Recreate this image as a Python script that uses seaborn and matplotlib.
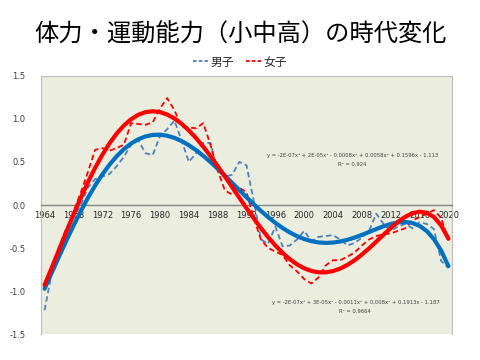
import numpy as np
import pandas as pd
import seaborn as sns
from matplotlib import pyplot as plt
from matplotlib.patches import Rectangle

years = list(range(1964, 2021))

# 男子 (blue dashed)
boys = [-1.22, -0.78, -0.48, -0.27, -0.15, 0.00, 0.20, 0.30, 0.33, 0.36,
        0.45, 0.56, 0.70, 0.75, 0.60, 0.58, 0.80, 0.88, 0.98, 0.75,
        0.50, 0.60, 0.72, 0.72, 0.40, 0.33, 0.35, 0.50, 0.46, 0.05,
        -0.40, -0.45, -0.25, -0.48, -0.47, -0.40, -0.30, -0.42, -0.37, -0.36,
        -0.35, -0.40, -0.47, -0.44, -0.38, -0.30, -0.10, -0.22, -0.30, -0.25,
        -0.22, -0.27, -0.20, -0.22, -0.28, -0.65, -0.73]

# 女子 (red dashed)
girls = [-0.99, -0.75, -0.52, -0.30, -0.08, 0.14, 0.38, 0.64, 0.66, 0.63,
         0.66, 0.70, 0.95, 0.94, 0.93, 0.96, 1.12, 1.24, 1.10, 0.91,
         0.90, 0.89, 0.95, 0.70, 0.40, 0.17, 0.12, 0.20, 0.15, -0.15,
         -0.40, -0.50, -0.54, -0.58, -0.70, -0.77, -0.86, -0.91, -0.84, -0.70,
         -0.64, -0.64, -0.60, -0.55, -0.47, -0.40, -0.36, -0.34, -0.33, -0.30,
         -0.27, -0.18, -0.14, -0.10, -0.06, -0.15, -0.41]

series_names = ["男子", "女子"]
dash_colors = ["#4F81BD", "#FF0000"]
trend_colors = ["#0070C0", "#FF0000"]

eq_boys = ["y = -2E-07x⁵ + 2E-05x⁴ - 0.0008x³ + 0.0058x² + 0.1596x - 1.113", "R² = 0.924"]
eq_girls = ["y = -2E-07x⁵ + 3E-05x⁴ - 0.0011x³ + 0.008x² + 0.1913x - 1.187", "R² = 0.9664"]

y_ticks = [-1.5, -1.0, -0.5, 0.0, 0.5, 1.0, 1.5]
x_labels = list(range(1964, 2021, 4))

sns.set_style("white")
plt.rcParams["font.family"] = ["Noto Sans CJK JP", "DejaVu Sans"]
plt.rcParams["axes.unicode_minus"] = False

df = pd.DataFrame({"year": years * 2,
                   "value": boys + girls,
                   "sex": [series_names[0]] * len(years) + [series_names[1]] * len(years)})

# 5th order polynomial trendlines (like Excel), x = 1..57
idx = np.arange(1, len(years) + 1)
trend_rows = []
for name, vals in zip(series_names, [boys, girls]):
    coef = np.polyfit(idx, vals, 5)
    trend_rows.append(pd.DataFrame({"year": years, "value": np.polyval(coef, idx), "sex": name}))
trend = pd.concat(trend_rows)

fig = plt.figure(figsize=(4.8, 3.6), dpi=100)
ax = fig.add_axes([0.0854, 0.0714, 0.8563, 0.7183])
ax.set_facecolor("#EBEDDE")

sns.lineplot(data=df, x="year", y="value", hue="sex", palette=dash_colors,
             linewidth=1.3, ax=ax, legend=True, zorder=3)
for line in ax.get_lines():
    line.set_dashes((3, 1.8))

sns.lineplot(data=trend, x="year", y="value", hue="sex", palette=trend_colors,
             linewidth=3.0, ax=ax, legend=False, zorder=4)

ax.set_xlim(1963.5, 2020.5)
ax.set_ylim(-1.5, 1.5)
ax.set_xlabel("")
ax.set_ylabel("")

# category style x axis crossing at 0
ax.spines["bottom"].set_position(("data", 0))
ax.spines["bottom"].set_color("#868686")
ax.spines["bottom"].set_linewidth(1.0)
for s in ["left", "top", "right"]:
    ax.spines[s].set_color("#BFBFBF")
    ax.spines[s].set_linewidth(0.8)
ax.add_patch(Rectangle((0, 0), 1, 1, transform=ax.transAxes, fill=False,
                       ec="#BFBFBF", lw=0.8, zorder=1))

ax.set_xticks([y - 0.5 for y in x_labels])
ax.set_xticklabels([])
ax.set_xticks(x_labels, minor=True)
ax.set_xticklabels([str(y) for y in x_labels], minor=True, fontsize=6,
                   family="DejaVu Sans", color="#262626")
ax.tick_params(axis="x", which="major", direction="inout", length=4, width=0.8, color="#868686")
ax.tick_params(axis="x", which="minor", length=0, pad=4)

ax.set_yticks(y_ticks)
ax.set_yticklabels([f"{v:.1f}" for v in y_ticks], fontsize=6, family="DejaVu Sans", color="#404040")
ax.tick_params(axis="y", direction="out", length=3, width=0.8, color="#BFBFBF", pad=8)

leg = ax.legend(loc="center", bbox_to_anchor=(0.5, 1 - 62 / 360), bbox_transform=fig.transFigure,
                ncol=2, frameon=False, fontsize=8.5, handlelength=1.3, handletextpad=0.2,
                columnspacing=1.0)
for h in leg.get_lines():
    h.set_linewidth(1.3)
    h.set_dashes((2, 1.2))

ax.text(2006.7, 0.57, eq_boys[0], fontsize=3.8, ha="center", va="center", color="#404040", family="DejaVu Sans")
ax.text(2006.7, 0.47, eq_boys[1], fontsize=3.8, ha="center", va="center", color="#404040", family="DejaVu Sans")
ax.text(2007.1, -1.13, eq_girls[0], fontsize=3.8, ha="center", va="center", color="#404040", family="DejaVu Sans")
ax.text(2007.1, -1.23, eq_girls[1], fontsize=3.8, ha="center", va="center", color="#404040", family="DejaVu Sans")

fig.text(0.5, 1 - 35 / 360, "体力・運動能力（小中高）の時代変化", ha="center", va="center",
         fontsize=17.5, color="black")

fig.savefig("out.png", dpi=100, facecolor="white")
